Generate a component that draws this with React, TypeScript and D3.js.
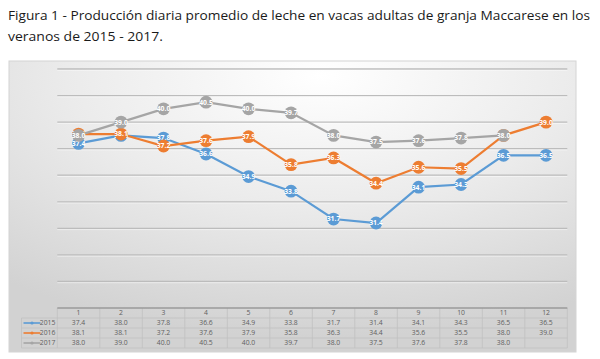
import React from "react";
import * as d3 from "d3";

const categories = ["1", "2", "3", "4", "5", "6", "7", "8", "9", "10", "11", "12"];
const seriesNames = ["2015", "2016", "2017"];
const values2015: (number | null)[] = [37.4, 38.0, 37.8, 36.6, 34.9, 33.8, 31.7, 31.4, 34.1, 34.3, 36.5, 36.5];
const values2016: (number | null)[] = [38.1, 38.1, 37.2, 37.6, 37.9, 35.8, 36.3, 34.4, 35.6, 35.5, 38.0, 39.0];
const values2017: (number | null)[] = [38.0, 39.0, 40.0, 40.5, 40.0, 39.7, 38.0, 37.5, 37.6, 37.8, 38.0, null];
const colors = ["#5B9BD5", "#ED7D31", "#A5A5A5"];
const gridTicks = [27, 29, 31, 33, 35, 37, 39, 41, 43];
const titleLines = [
  "Figura 1 - Producción diaria promedio de leche en vacas adultas de granja Maccarese en los",
  "veranos de 2015 - 2017.",
];

export default function App() {
  const W = 600, H = 359;
  const series = [values2015, values2016, values2017];
  const plotL = 57.3, plotR = 567.3;
  const x = d3.scaleBand<string>().domain(categories).range([plotL, plotR]);
  const y = d3.scaleLinear().domain([25, 43]).range([308, 69]);
  const cx = (c: string) => (x(c) as number) + x.bandwidth() / 2;
  const line = d3
    .line<number | null>()
    .defined((d) => d !== null)
    .x((_, i) => cx(categories[i]))
    .y((d) => y(d as number));
  const tableTop = 308;
  const rowH = 10;
  const legendL = 21.5;
  const textCol = "#606060";
  const font = "'Open Sans', 'Liberation Sans', sans-serif";

  return (
    <svg width={W} height={H} style={{ position: "absolute", left: 0, top: 0, background: "#fff" }}>
      <defs>
        <radialGradient id="bg" cx="0.55" cy="0.05" r="0.9" gradientUnits="objectBoundingBox">
          <stop offset="0" stopColor="#ffffff" />
          <stop offset="0.5" stopColor="#ebebeb" />
          <stop offset="1" stopColor="#d2d2d2" />
        </radialGradient>
      </defs>
      {titleLines.map((t, i) => (
        <text
          key={i}
          x={8}
          y={19.5 + i * 21}
          fontFamily={font}
          fontSize={13.4}
          fill="#1a1a1a"
          textLength={i === 0 ? 582 : 155}
          lengthAdjust="spacingAndGlyphs"
        >
          {t}
        </text>
      ))}
      <rect x={9} y={61} width={567} height={291} fill="url(#bg)" stroke="#d4d4d4" strokeWidth={1} />
      {gridTicks.map((t) => (
        <g key={t}>
          <line x1={plotL} x2={plotR} y1={y(t)} y2={y(t)} stroke="#bcbcbc" strokeWidth={1.3} />
          <line x1={plotL} x2={plotR} y1={y(t) + 1.3} y2={y(t) + 1.3} stroke="#ffffff" strokeOpacity={0.6} strokeWidth={0.8} />
        </g>
      ))}
      {series.map((s, k) => (
        <path key={k} d={line(s) || ""} fill="none" stroke={colors[k]} strokeWidth={2.2} />
      ))}
      {series.map((s, k) =>
        s.map((v, i) =>
          v === null ? null : (
            <g key={`${k}-${i}`}>
              <circle cx={cx(categories[i])} cy={y(v)} r={6.4} fill={colors[k]} />
              <text
                x={cx(categories[i])}
                y={y(v) + 2.4}
                textAnchor="middle"
                fontFamily={font}
                fontSize={6.8}
                fontWeight="bold"
                fill="#ffffff"
              >
                {v.toFixed(1)}
              </text>
            </g>
          )
        )
      )}
      {/* data table */}
      <g>
        {[1, 2, 3, 4].map((r) => (
          <line
            key={r}
            x1={legendL}
            x2={plotR}
            y1={tableTop + r * rowH}
            y2={tableTop + r * rowH}
            stroke="#c0c0c0"
            strokeWidth={0.8}
          />
        ))}
        <line x1={legendL} x2={legendL} y1={tableTop + rowH} y2={tableTop + 4 * rowH} stroke="#c0c0c0" strokeWidth={0.8} />
        {categories.map((c) => (
          <line
            key={c}
            x1={x(c) as number}
            x2={x(c) as number}
            y1={tableTop}
            y2={tableTop + 4 * rowH}
            stroke="#c0c0c0"
            strokeWidth={0.8}
          />
        ))}
        <line x1={plotR} x2={plotR} y1={tableTop} y2={tableTop + 4 * rowH} stroke="#c0c0c0" strokeWidth={0.8} />
        <line x1={plotL} x2={plotR} y1={tableTop} y2={tableTop} stroke="#9a9a9a" strokeWidth={1.6} />
        {categories.map((c) => (
          <text
            key={c}
            x={cx(c)}
            y={tableTop + rowH - 2.6}
            textAnchor="middle"
            fontFamily={font}
            fontSize={6.8}
            fill={textCol}
          >
            {c}
          </text>
        ))}
        {series.map((s, k) => (
          <g key={k}>
            <line
              x1={legendL + 2}
              x2={legendL + 19}
              y1={tableTop + (k + 1) * rowH + rowH / 2}
              y2={tableTop + (k + 1) * rowH + rowH / 2}
              stroke={colors[k]}
              strokeWidth={1.6}
            />
            <circle cx={legendL + 10.5} cy={tableTop + (k + 1) * rowH + rowH / 2} r={1.6} fill={colors[k]} />
            <text
              x={plotL - 2}
              y={tableTop + (k + 2) * rowH - 2.6}
              textAnchor="end"
              fontFamily={font}
              fontSize={6.8}
              fill={textCol}
            >
              {seriesNames[k]}
            </text>
            {s.map((v, i) =>
              v === null ? null : (
                <text
                  key={i}
                  x={cx(categories[i])}
                  y={tableTop + (k + 2) * rowH - 2.6}
                  textAnchor="middle"
                  fontFamily={font}
                  fontSize={6.8}
                  fill={textCol}
                >
                  {v.toFixed(1)}
                </text>
              )
            )}
          </g>
        ))}
      </g>
    </svg>
  );
}
